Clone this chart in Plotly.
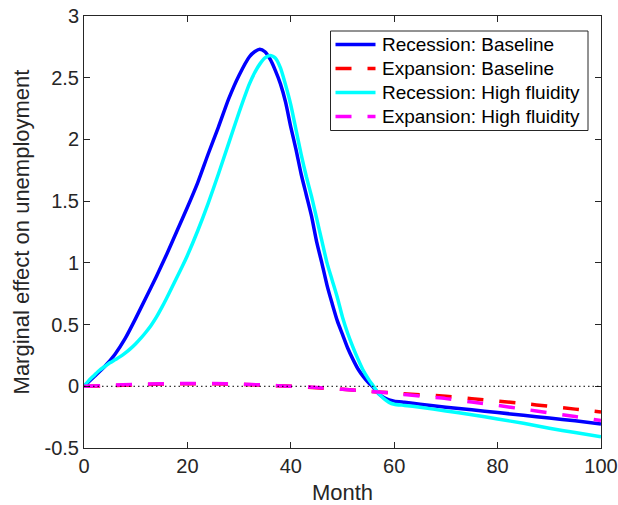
import plotly.graph_objects as go

# ---- data ----
rec_base_month = [0, 2, 4, 6, 8, 10, 12, 14, 16, 18, 20, 22, 24, 26, 28, 30, 32, 33, 34, 35, 36, 37, 38,
                  39, 40, 41, 42, 43, 44, 45, 46, 47, 48, 49, 50, 51, 52, 53, 54, 55, 56, 57, 58, 59, 60,
                  62, 65, 70, 75, 80, 85, 90, 95, 100]
rec_base_val = [0, 0.08, 0.16, 0.26, 0.39, 0.55, 0.72, 0.89, 1.07, 1.26, 1.45, 1.65, 1.88, 2.10, 2.33, 2.52,
                2.67, 2.71, 2.73, 2.71, 2.65, 2.56, 2.45, 2.30, 2.10, 1.92, 1.72, 1.55, 1.38, 1.17, 1.00,
                0.82, 0.67, 0.53, 0.42, 0.31, 0.22, 0.14, 0.08, 0.03, -0.01, -0.06, -0.09, -0.11, -0.12,
                -0.13, -0.145, -0.17, -0.19, -0.213, -0.235, -0.257, -0.28, -0.305]

rec_high_month = [0, 1, 2, 3, 4, 5, 6, 7, 8, 9, 10, 11, 12, 13, 14, 15, 16, 17, 18, 19, 20, 22, 24, 26, 28,
                  30, 32, 33, 34, 35, 36, 37, 38, 39, 40, 41, 42, 43, 44, 45, 46, 47, 48, 49, 50, 51, 52,
                  53, 54, 55, 56, 57, 58, 59, 60, 62, 65, 70, 75, 80, 85, 90, 95, 100]
rec_high_val = [0, 0.05, 0.09, 0.13, 0.16, 0.19, 0.215, 0.24, 0.27, 0.305, 0.345, 0.39, 0.44, 0.495, 0.56,
                0.635, 0.715, 0.80, 0.885, 0.97, 1.06, 1.26, 1.48, 1.72, 1.97, 2.22, 2.45, 2.54, 2.61, 2.66,
                2.68, 2.66, 2.58, 2.44, 2.28, 2.08, 1.88, 1.70, 1.54, 1.36, 1.18, 1.00, 0.86, 0.72, 0.56,
                0.43, 0.32, 0.22, 0.13, 0.06, 0.0, -0.06, -0.10, -0.13, -0.145, -0.155, -0.17, -0.20,
                -0.23, -0.265, -0.30, -0.34, -0.375, -0.41]

exp_month = [0, 5, 10, 15, 20, 25, 30, 35, 40, 45, 50, 55, 60, 65, 70, 75, 80, 85, 90, 95, 100]
exp_base_val = [0, 0.005, 0.012, 0.018, 0.02, 0.02, 0.015, 0.008, 0.0, -0.012, -0.025, -0.04, -0.055,
                -0.068, -0.08, -0.10, -0.12, -0.14, -0.162, -0.185, -0.208]
exp_high_val = [0, 0.008, 0.015, 0.02, 0.022, 0.022, 0.017, 0.01, 0.0, -0.01, -0.025, -0.04, -0.058,
                -0.08, -0.10, -0.128, -0.155, -0.185, -0.215, -0.245, -0.278]

series_names = ["Recession: Baseline", "Expansion: Baseline",
                "Recession: High fluidity", "Expansion: High fluidity"]

x_ticks = [0, 20, 40, 60, 80, 100]
y_ticks = [-0.5, 0, 0.5, 1, 1.5, 2, 2.5, 3]
y_tick_labels = ["-0.5", "0", "0.5", "1", "1.5", "2", "2.5", "3"]

TXT = "#262626"
FONT = "Liberation Sans, Arial, sans-serif"
LW = 3.5
DASH = "16px,16px"

styles = [
    dict(color="#0000ff", width=LW, dash="solid"),
    dict(color="#ff0000", width=LW, dash=DASH),
    dict(color="#00ffff", width=LW, dash="solid"),
    dict(color="#ff00ff", width=LW, dash=DASH),
]
xs = [rec_base_month, exp_month, rec_high_month, exp_month]
ys = [rec_base_val, exp_base_val, rec_high_val, exp_high_val]

fig = go.Figure()
for name, x, y, st in zip(series_names, xs, ys, styles):
    fig.add_trace(go.Scatter(x=x, y=y, mode="lines", name=name, showlegend=False,
                             line=dict(shape="spline", smoothing=0.6, **st)))

# zero reference line (dotted)
fig.add_shape(type="line", xref="x", yref="y", x0=0, x1=100, y0=0, y1=0,
              line=dict(color="black", width=1, dash="1.5px,3px"), layer="above")

# ---- legend box (MATLAB-style, compact rows) ----
PL, PR, PT, PB = 84, 601, 16, 448  # plot-area pixel box


def px_x(p):
    return (p - PL) / (PR - PL)


def px_y(p):
    return (PB - p) / (PB - PT)


fig.add_shape(type="rect", xref="paper", yref="paper",
              x0=px_x(330.5), x1=px_x(588), y0=px_y(31), y1=px_y(130.5),
              line=dict(color=TXT, width=1), fillcolor="white", layer="above")
row_y = [44.5, 68.5, 92.5, 116.5]
for name, st, ry in zip(series_names, styles, row_y):
    fig.add_shape(type="line", xref="paper", yref="paper",
                  x0=px_x(335.5), x1=px_x(375.5), y0=px_y(ry), y1=px_y(ry),
                  line=st, layer="above")
    fig.add_annotation(xref="paper", yref="paper", x=px_x(380), y=px_y(ry),
                       xanchor="left", yanchor="middle", showarrow=False, text=name,
                       font=dict(family=FONT, size=19, color="black"))

axis_common = dict(
    showgrid=False, zeroline=False, showline=True, linecolor=TXT, linewidth=1,
    mirror="ticks", ticks="inside", ticklen=6, tickwidth=1, tickcolor=TXT,
    tickfont=dict(family=FONT, size=20, color=TXT), automargin=False,
)

fig.update_layout(
    width=618, height=505,
    margin=dict(l=PL, r=618 - PR, t=PT, b=505 - PB),
    paper_bgcolor="white", plot_bgcolor="white",
    font=dict(family=FONT, color=TXT),
    xaxis=dict(range=[0, 100], tickvals=x_ticks,
               title=dict(text="Month", font=dict(family=FONT, size=22, color=TXT), standoff=10),
               **axis_common),
    yaxis=dict(range=[-0.5, 3], tickvals=y_ticks, ticktext=y_tick_labels,
               title=dict(text="Marginal effect on unemployment", font=dict(family=FONT, size=22, color=TXT), standoff=8),
               **axis_common),
    showlegend=False,
)

fig.write_html("out.html")
